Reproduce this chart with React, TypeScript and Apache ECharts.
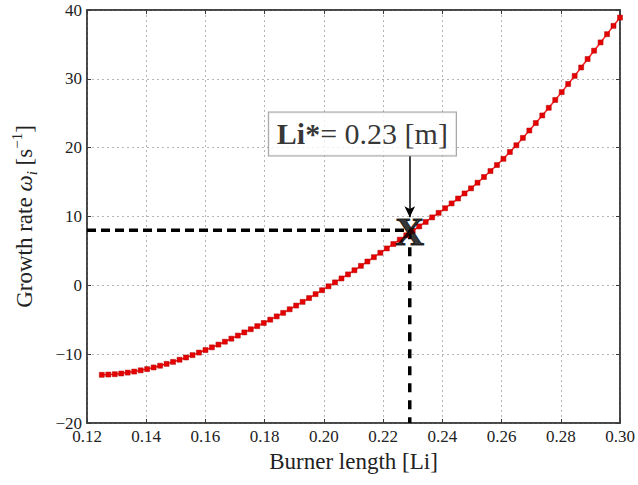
import React, { useEffect, useRef } from "react";
import * as echarts from "echarts";

const burnerLength = [
  0.125, 0.12719, 0.12938, 0.13156, 0.13375, 0.13594, 0.13813, 0.14031, 0.1425, 0.14469,
  0.14688, 0.14906, 0.15125, 0.15344, 0.15563, 0.15781, 0.16, 0.16219, 0.16438, 0.16656,
  0.16875, 0.17094, 0.17313, 0.17531, 0.1775, 0.17969, 0.18188, 0.18406, 0.18625, 0.18844,
  0.19063, 0.19281, 0.195, 0.19719, 0.19938, 0.20156, 0.20375, 0.20594, 0.20813, 0.21031,
  0.2125, 0.21469, 0.21688, 0.21906, 0.22125, 0.22344, 0.22563, 0.22781, 0.23, 0.23219,
  0.23438, 0.23656, 0.23875, 0.24094, 0.24313, 0.24531, 0.2475, 0.24969, 0.25188, 0.25406,
  0.25625, 0.25844, 0.26063, 0.26281, 0.265, 0.26719, 0.26938, 0.27156, 0.27375, 0.27594,
  0.27813, 0.28031, 0.2825, 0.28469, 0.28688, 0.28906, 0.29125, 0.29344, 0.29563, 0.29781,
  0.3,
];

const growthRate = [
  -13.0, -12.96, -12.91, -12.81, -12.68, -12.53, -12.35, -12.17, -11.93, -11.68,
  -11.41, -11.12, -10.81, -10.48, -10.14, -9.77, -9.4, -9.01, -8.61, -8.19,
  -7.75, -7.3, -6.84, -6.38, -5.93, -5.47, -4.99, -4.51, -4.0, -3.48,
  -2.94, -2.4, -1.85, -1.28, -0.71, -0.14, 0.43, 1.0, 1.59, 2.19,
  2.83, 3.46, 4.09, 4.73, 5.36, 6.0, 6.63, 7.27, 7.9, 8.56,
  9.21, 9.87, 10.53, 11.2, 11.9, 12.61, 13.35, 14.09, 14.91, 15.74,
  16.6, 17.48, 18.38, 19.37, 20.35, 21.42, 22.49, 23.58, 24.68, 25.79,
  26.93, 28.07, 29.25, 30.43, 31.65, 32.88, 34.09, 35.29, 36.49, 37.7,
  38.9,
];

// critical point
const criticalLength = 0.229;
const criticalRate = 8.0;
// annotation box centre and arrow ends (data space)
const annotationPos = [0.213, 22.0];
const arrowFrom = [0.229, 18.8];
const arrowTo = [0.229, 9.9];

const xMin = 0.12;
const xMax = 0.3;
const xStep = 0.02;
const yMin = -20;
const yMax = 40;
const yStep = 10;

const SERIF = "Liberation Serif";

export default function App() {
  const ref = useRef<HTMLDivElement>(null);

  useEffect(() => {
    if (!ref.current) return;
    const chart = echarts.init(ref.current, null, { renderer: "svg" });
    const fmtY = (v: number) => (v < 0 ? "\u2212" + Math.abs(v) : String(v));
    const fmtX = (v: number) => v.toFixed(2);
    const frame = "#3a3a3a";
    const tickLabel = {
      fontFamily: SERIF,
      fontSize: 17,
      color: "#222",
      margin: 5,
      showMinLabel: true,
      showMaxLabel: true,
    };

    const option: any = {
      animation: false,
      backgroundColor: "#fff",
      textStyle: { fontFamily: SERIF },
      grid: {
        left: 87,
        right: 18,
        top: 10,
        bottom: 62,
        show: true,
        borderColor: frame,
        borderWidth: 1.5,
        backgroundColor: "transparent",
      },
      xAxis: [
        {
          type: "value",
          min: xMin,
          max: xMax,
          interval: xStep,
          name: "Burner length [Li]",
          nameLocation: "middle",
          nameGap: 27,
          nameTextStyle: { fontFamily: SERIF, fontSize: 23, color: "#222" },
          axisLine: { show: true, onZero: false, lineStyle: { color: frame, width: 1.5 } },
          axisTick: { show: true, inside: true, length: 4, lineStyle: { color: frame } },
          axisLabel: { ...tickLabel, formatter: fmtX },
          splitLine: { show: true, lineStyle: { type: [2, 3], color: "#b5b5b5", width: 1 } },
        },
        {
          type: "value",
          position: "top",
          min: xMin,
          max: xMax,
          interval: xStep,
          axisLine: { show: true, onZero: false, lineStyle: { color: frame, width: 1.5 } },
          axisTick: { show: true, inside: true, length: 4, lineStyle: { color: frame } },
          axisLabel: { show: false },
          splitLine: { show: false },
        },
      ],
      yAxis: [
        {
          type: "value",
          min: yMin,
          max: yMax,
          interval: yStep,
          name: "Growth rate {w|\u03C9}{sub|i} [s{sup|\u22121}]",
          nameLocation: "middle",
          nameGap: 48,
          nameRotate: 90,
          nameTextStyle: {
            fontFamily: SERIF,
            fontSize: 23,
            color: "#222",
            lineHeight: 30,
            rich: {
              w: { fontFamily: SERIF, fontSize: 23, fontStyle: "italic", color: "#222", lineHeight: 30 },
              sub: {
                fontFamily: SERIF,
                fontSize: 15,
                fontStyle: "italic",
                color: "#222",
                lineHeight: 14,
                verticalAlign: "bottom",
              },
              sup: {
                fontFamily: SERIF,
                fontSize: 15,
                color: "#222",
                lineHeight: 14,
                verticalAlign: "top",
              },
            },
          },
          axisLine: { show: true, onZero: false, lineStyle: { color: frame, width: 1.5 } },
          axisTick: { show: true, inside: true, length: 4, lineStyle: { color: frame } },
          axisLabel: { ...tickLabel, formatter: fmtY },
          splitLine: { show: true, lineStyle: { type: [2, 3], color: "#b5b5b5", width: 1 } },
        },
        {
          type: "value",
          position: "right",
          min: yMin,
          max: yMax,
          interval: yStep,
          axisLine: { show: true, onZero: false, lineStyle: { color: frame, width: 1.5 } },
          axisTick: { show: true, inside: true, length: 4, lineStyle: { color: frame } },
          axisLabel: { show: false },
          splitLine: { show: false },
        },
      ],
      series: [
        {
          name: "guideH",
          type: "line",
          data: [
            [xMin, criticalRate],
            [criticalLength, criticalRate],
          ],
          showSymbol: false,
          symbol: "none",
          lineStyle: { color: "#000", width: 3.5, type: [9, 5] },
          z: 3,
          silent: true,
        },
        {
          name: "guideV",
          type: "line",
          data: [
            [criticalLength, criticalRate],
            [criticalLength, yMin],
          ],
          showSymbol: false,
          symbol: "none",
          lineStyle: { color: "#000", width: 3.5, type: [9, 8] },
          z: 3,
          silent: true,
        },
        {
          name: "growth",
          type: "line",
          data: burnerLength.map((x, i) => [x, growthRate[i]]),
          symbol: "rect",
          symbolSize: 5,
          showAllSymbol: true,
          lineStyle: { color: "#ff2020", width: 1.5 },
          itemStyle: { color: "#e60000", borderColor: "#b00000", borderWidth: 0.5 },
          z: 4,
        },
        {
          name: "critical",
          type: "scatter",
          data: [[criticalLength, criticalRate]],
          symbolSize: 1,
          itemStyle: { color: "rgba(0,0,0,0)" },
          label: {
            show: true,
            position: "inside",
            formatter: "X",
            fontFamily: SERIF,
            fontWeight: "bold",
            fontSize: 40,
            color: "#000",
            textBorderColor: "#000",
            textBorderWidth: 1,
            offset: [0, 1],
          },
          z: 6,
        },
        {
          name: "annotation",
          type: "scatter",
          data: [annotationPos],
          symbolSize: 1,
          itemStyle: { color: "rgba(0,0,0,0)" },
          label: {
            show: true,
            position: "inside",
            formatter: "{b|Li*}{r|= 0.23 [m]}",
            backgroundColor: "#fff",
            borderColor: "#8a8a8a",
            borderWidth: 1,
            padding: [5, 8, 5, 8],
            rich: {
              b: { fontFamily: SERIF, fontWeight: "bold", fontSize: 30, color: "#000", lineHeight: 33 },
              r: { fontFamily: SERIF, fontSize: 30, color: "#000", lineHeight: 33 },
            },
          },
          markLine: {
            silent: true,
            symbol: ["none", "arrow"],
            symbolSize: [8, 11],
            label: { show: false },
            lineStyle: { type: "solid", color: "#000", width: 1.5 },
            data: [[{ coord: arrowFrom }, { coord: arrowTo }]],
          },
          z: 5,
        },
      ],
    };

    chart.setOption(option);
    return () => chart.dispose();
  }, []);

  return (
    <div
      ref={ref}
      style={{ position: "fixed", left: 0, top: 0, width: 638, height: 485, background: "#fff" }}
    />
  );
}
